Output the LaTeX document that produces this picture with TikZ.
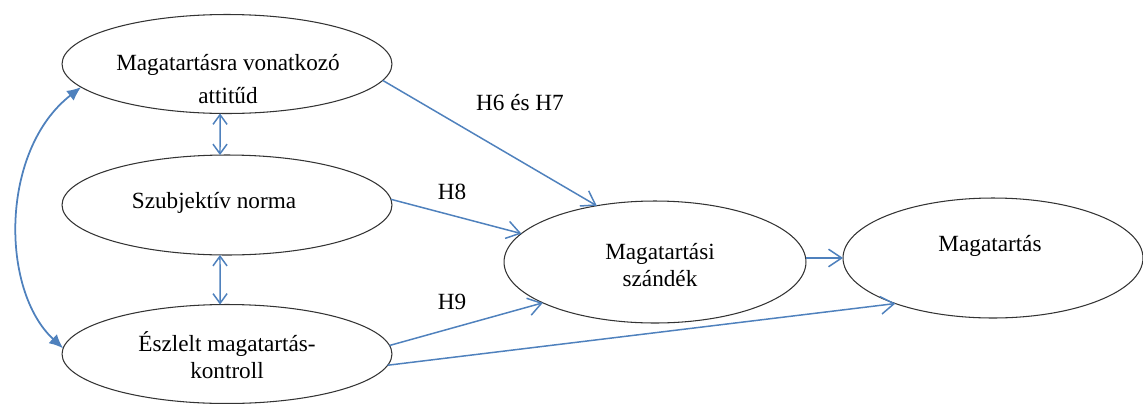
\documentclass[tikz,border=0pt]{standalone}
\usepackage{fontspec}
\setmainfont{Liberation Serif}
\usetikzlibrary{shapes.geometric,arrows.meta}
\definecolor{linkblue}{RGB}{79,129,189}
\tikzset{
  oval/.style={ellipse, draw=black!80, line width=0.6pt, inner sep=0pt, outer sep=0pt},
  txt/.style={align=center, font=\fontsize{13.2}{15.5}\selectfont, inner sep=0pt},
  link/.style={linkblue, line width=0.85pt, -{Straight Barb[length=7.5pt,width=10pt]}},
  both/.style={linkblue, line width=0.85pt, {Straight Barb[length=5.5pt,width=8pt]}-{Straight Barb[length=5.5pt,width=8pt]}},
  curved/.style={linkblue, line width=1pt, {Latex[length=8pt,width=7pt]}-{Latex[length=8pt,width=7pt]}}
}
\begin{document}
\begin{tikzpicture}[x=0.02cm,y=-0.02cm]
	\useasboundingbox (0,0) rectangle (1143,403);
	% ellipses
	\node[oval, minimum width=6.6cm, minimum height=1.98cm] (att) at (227,64) {};
	\node[oval, minimum width=6.6cm, minimum height=2cm] (norm) at (227,205) {};
	\node[oval, minimum width=6.6cm, minimum height=1.98cm] (ctl) at (227,354) {};
	\node[oval, minimum width=6.04cm, minimum height=2.44cm] (int) at (655,262) {};
	\node[oval, minimum width=6cm, minimum height=2.4cm] (beh) at (993,258) {};
	% texts
	\node[txt] (atttxt) at (228,79) {Magatartásra vonatkozó\\[3pt]attitűd};
	\node[txt] (normtxt) at (214,203) {Szubjektív norma};
	\node[txt] (ctltxt) at (227,355) {Észlelt magatartás-\\kontroll};
	\node[txt] (inttxt) at (660,265) {Magatartási\\szándék};
	\node[txt] (behtxt) at (990,246) {Magatartás};
	% hypotheses
	\node[txt] (h67) at (520,103) {H6 és H7};
	\node[txt] (h8) at (452,192) {H8};
	\node[txt] (h9) at (452,302) {H9};
	% arrows
	\draw[both] (att.262) -- (norm.98);
	\draw[both] (norm.262) -- (ctl.98);
	\draw[curved] (att.189) .. controls (0,150) and (0,290) .. (ctl.178);
	\draw[link] (att.-6) -- (int.136);
	\draw[link] (norm.2) -- (int.168);
	\draw[link] (ctl.3) -- (int.200);
	\draw[link] (ctl.-4) -- (beh.205);
	\draw[link] (beh.west -| int.east) -- (beh.west);
\end{tikzpicture}
\end{document}
